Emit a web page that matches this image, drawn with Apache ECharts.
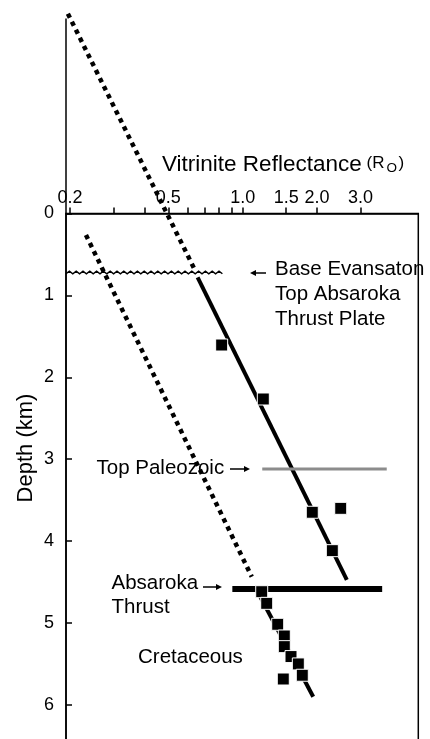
<!DOCTYPE html>
<html>
<head>
<meta charset="utf-8">
<script src="https://cdn.jsdelivr.net/npm/echarts@6/dist/echarts.min.js"></script>
<style>
  html, body { margin: 0; padding: 0; background: #fff; }
  #chart { width: 430px; height: 739px; }
</style>
</head>
<body>
<div id="chart"></div>
<script>
// Reflectance axis (log scale) – ticks and labelled values
const reflectanceTicks = [0.2, 0.3, 0.4, 0.5, 0.6, 0.7, 0.8, 0.9, 1.0, 1.5, 2.0, 3.0];
const reflectanceLabels = [0.2, 0.5, 1.0, 1.5, 2.0, 3.0];
const depthTicks = [0, 1, 2, 3, 4, 5, 6];
const reflectanceRange = [0.1926, 5.14];
const depthRange = [0, 6.8];

// Measured samples [Ro, depth km]
const upperPlateSamples = [
  [0.822, 1.606], [1.212, 2.265], [1.913, 3.648], [2.494, 3.600], [2.306, 4.117]
];
const cretaceousSamples = [
  [1.194, 4.618], [1.251, 4.760], [1.386, 5.016], [1.474, 5.159], [1.474, 5.289],
  [1.569, 5.410], [1.680, 5.500], [1.743, 5.638], [1.460, 5.684]
];

// Trend lines [Ro, depth km]
const upperTrendProjected = [[0.196, -2.44], [0.643, 0.70]];
const upperTrendFit = [[0.657, 0.78], [2.64, 4.475]];
const lowerTrendProjected = [[0.232, 0.2625], [1.088, 4.435]];
const lowerTrendFit = [[1.134, 4.585], [1.93, 5.90]];

// Horizons
const unconformity = [[0.1926, 0.848, 0.72]];          // [Ro from, Ro to, depth]
const topPaleozoic = [[1.20, 3.12], [3.83, 3.12]];
const absarokaThrust = [[0.908, 4.585], [3.67, 4.585]];
const frameExtension = [[0.1926, -2.38], [0.1926, 0]];

const FONT = "'Liberation Sans', Arial, Helvetica, sans-serif";

const chart = echarts.init(document.getElementById('chart'), null, { renderer: 'canvas' });

function lineSeries(data, opts) {
  return Object.assign({
    type: 'line',
    data: data,
    symbol: 'none',
    clip: false,
    silent: true,
    animation: false,
    lineStyle: { color: '#000', width: 4, cap: 'butt' }
  }, opts);
}

function txt(text, x, y, size, extra) {
  return Object.assign({
    type: 'text',
    x: x, y: y,
    silent: true,
    style: {
      text: text,
      font: size + 'px ' + FONT,
      fill: '#000',
      align: 'left',
      verticalAlign: 'middle'
    }
  }, extra || {});
}

// Small pointer arrow: thin shaft with a filled head at (x2, y)
function arrow(x1, x2, y) {
  const dir = x2 > x1 ? 1 : -1;
  const headLen = 6, headHalf = 3;
  return {
    type: 'group',
    silent: true,
    children: [
      {
        type: 'line',
        shape: { x1: x1, y1: y, x2: x2 - dir * headLen, y2: y },
        style: { stroke: '#000', lineWidth: 1.5 }
      },
      {
        type: 'polygon',
        shape: { points: [[x2, y], [x2 - dir * headLen, y - headHalf], [x2 - dir * headLen, y + headHalf]] },
        style: { fill: '#000' }
      }
    ]
  };
}

const option = {
  animation: false,
  backgroundColor: '#fff',
  grid: {
    left: 66, top: 213.5, width: 352.3, height: 556.9,
    containLabel: false,
    outerBoundsMode: 'none',
    show: true, borderColor: '#000', borderWidth: 1.5, backgroundColor: 'transparent'
  },
  xAxis: {
    type: 'log',
    position: 'top',
    min: reflectanceRange[0],
    max: reflectanceRange[1],
    axisLine: { show: true, lineStyle: { color: '#000', width: 1.5 } },
    axisTick: {
      show: true, inside: false, length: 6,
      customValues: reflectanceTicks,
      lineStyle: { color: '#000', width: 1.5 }
    },
    axisLabel: {
      show: true, margin: 6, color: '#000', fontSize: 18, fontFamily: FONT,
      customValues: reflectanceLabels,
      formatter: v => Number(v).toFixed(1)
    },
    splitLine: { show: false },
    minorTick: { show: false }
  },
  yAxis: {
    type: 'value',
    inverse: true,
    min: depthRange[0],
    max: depthRange[1],
    axisLine: { show: true, lineStyle: { color: '#000', width: 1.5 } },
    axisTick: {
      show: true, inside: true, length: 6,
      customValues: depthTicks,
      lineStyle: { color: '#000', width: 1.5 }
    },
    axisLabel: {
      show: true, margin: 12, color: '#000', fontSize: 18, fontFamily: FONT,
      customValues: depthTicks
    },
    splitLine: { show: false }
  },
  series: [
    lineSeries(frameExtension, { lineStyle: { color: '#000', width: 1.5 } }),
    lineSeries(upperTrendProjected, { lineStyle: { color: '#000', width: 4.5, type: [4.5, 4.5], cap: 'butt' } }),
    lineSeries(lowerTrendProjected, { lineStyle: { color: '#000', width: 4.5, type: [4.5, 4.5], cap: 'butt' } }),
    lineSeries(upperTrendFit, { lineStyle: { color: '#000', width: 4, cap: 'butt' } }),
    lineSeries(lowerTrendFit, { lineStyle: { color: '#000', width: 4, cap: 'butt' } }),
    lineSeries(topPaleozoic, { lineStyle: { color: '#8c8c8c', width: 3, cap: 'butt' } }),
    lineSeries(absarokaThrust, { lineStyle: { color: '#000', width: 6, cap: 'butt' } }),
    {
      // jagged unconformity surface
      type: 'custom',
      data: unconformity,
      encode: { x: [0, 1], y: 2 },
      silent: true,
      animation: false,
      renderItem: (params, api) => {
        const a = api.coord([api.value(0), api.value(2)]);
        const b = api.coord([api.value(1), api.value(2)]);
        const pts = [];
        const step = 3.4;
        let i = 0;
        for (let x = a[0]; x <= b[0]; x += step, i++) {
          pts.push([x, a[1] + (i % 2 ? -1.3 : 1.3)]);
        }
        return {
          type: 'polyline',
          shape: { points: pts },
          style: { stroke: '#000', lineWidth: 1.4, fill: null }
        };
      }
    },
    {
      type: 'scatter',
      data: upperPlateSamples,
      symbol: 'rect',
      symbolSize: 12,
      silent: true,
      animation: false,
      z: 5,
      itemStyle: { color: '#000', borderColor: '#fff', borderWidth: 1, opacity: 1 }
    },
    {
      type: 'scatter',
      data: cretaceousSamples,
      symbol: 'rect',
      symbolSize: 12,
      silent: true,
      animation: false,
      z: 5,
      itemStyle: { color: '#000', borderColor: '#fff', borderWidth: 1, opacity: 1 }
    }
  ],
  graphic: [
    txt('Vitrinite Reflectance', 162, 165, 22.5),
    txt('(R', 366.5, 163.5, 17),
    txt('O', 386.5, 168, 13.5),
    txt(')', 398.5, 163.5, 17),
    txt('Depth (km)', 26, 448, 22, { rotation: Math.PI / 2, style: { text: 'Depth (km)', font: '22px ' + FONT, fill: '#000', align: 'center', verticalAlign: 'middle' } }),
    arrow(266, 250, 273),
    txt('Base Evansaton', 275, 269, 20.5),
    txt('Top Absaroka', 275, 294, 20.5),
    txt('Thrust Plate', 275, 319, 20.5),
    txt('Top Paleozoic', 96.5, 468.5, 20.5),
    arrow(230, 250, 469),
    txt('Absaroka', 111.5, 583, 20.5),
    arrow(203, 222, 587),
    txt('Thrust', 111.5, 607.5, 20.5),
    txt('Cretaceous', 138, 657.5, 20.5)
  ]
};

chart.setOption(option);
</script>
</body>
</html>
